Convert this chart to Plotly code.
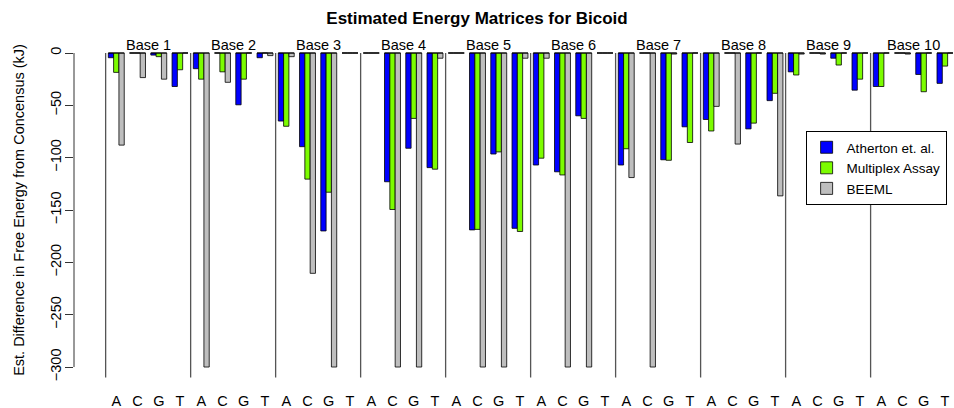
import plotly.graph_objects as go

# ---- data ----
bases = ["Base 1", "Base 2", "Base 3", "Base 4", "Base 5",
         "Base 6", "Base 7", "Base 8", "Base 9", "Base 10"]
nucleotides = ["A", "C", "G", "T"]
series_names = ["Atherton et. al.", "Multiplex Assay", "BEEML"]

atherton = [
    -4.5, 0, -2, -32,
    -15, 0, -49.5, -4.5,
    -65, -89.5, -170, 0,
    0, -123, -91, -109.5,
    0, -169, -96.5, -167.5,
    -107, -113.5, -60, 0,
    -107, 0, -102, -70.5,
    -63.5, 0, -72.5, -45.5,
    -18, 0, -5, -35.5,
    -32, 0, -20.5, -29,
]
multiplex = [
    -18.5, 0, -3.5, -16,
    -25, -18, -25, 0,
    -70, -120.5, -133, 0,
    0, -149.5, -62.5, -111,
    0, -168.5, -94.5, -170.5,
    -100.5, -116.5, -62.5, 0,
    -91.5, 0, -102.5, -85.5,
    -74.5, 0, -67, -38.5,
    -21, 0, -11.5, -25,
    -32, 0, -37, -12.5,
]
beeml = [
    -88, -23.5, -25, 0,
    -300, -28, 0, -2.5,
    -3.5, -210.5, -300, 0,
    0, -300, -300, -5,
    0, -300, -300, -5,
    -5, -300, -300, 0,
    -119, -300, -1, 0,
    -51, -87, 0, -136.5,
    -1, -1, 0, 0,
    0, -1, 0, 0,
]
y_ticks = [0, -50, -100, -150, -200, -250, -300]

# ---- layout helpers (R barplot-style positions: 3 bars + 1 gap per group) ----
colors = ["#0000FF", "#7CFC00", "#BEBEBE"]
n_groups = len(bases) * len(nucleotides)
group_left = [1 + 4 * g for g in range(n_groups)]

fig = go.Figure()
for s, (name, vals) in enumerate(zip(series_names, [atherton, multiplex, beeml])):
    fig.add_trace(go.Bar(
        x=[gl + s + 0.5 for gl in group_left], y=vals, width=1, name=name,
        marker=dict(color=colors[s], line=dict(color="black", width=0.8)),
    ))

# zero line across each group (R draws zero-height bars as a flat line)
zx, zy = [], []
for gl in group_left:
    zx += [gl, gl + 3, None]
    zy += [0, 0, None]
fig.add_trace(go.Scatter(x=zx, y=zy, mode="lines", line=dict(color="black", width=1),
                         showlegend=False, hoverinfo="skip"))

shapes = []
for k in range(len(bases)):
    xs = 0.5 + 16 * k
    shapes.append(dict(type="line", xref="x", yref="y", x0=xs, x1=xs, y0=0, y1=-310,
                       line=dict(color="#555555", width=1.3), layer="below"))
shapes.append(dict(type="line", xref="paper", yref="y", x0=0, x1=0, y0=0, y1=-300,
                   line=dict(color="#333333", width=1)))

annotations = []
for k, b in enumerate(bases):
    annotations.append(dict(x=8.5 + 16 * k, y=7.6, xref="x", yref="y", text=b,
                            showarrow=False, yanchor="middle",
                            font=dict(size=14.5, color="black")))

label_pos = [gl + 1.5 for gl in group_left]
label_text = nucleotides * len(bases)

fig.update_layout(
    width=954, height=408,
    margin=dict(l=74, r=0, t=40, b=28, autoexpand=False),
    paper_bgcolor="white", plot_bgcolor="white",
    font=dict(family="Liberation Sans, Arial, Helvetica, sans-serif", size=14.5, color="black"),
    barmode="overlay",
    title=dict(text="<b>Estimated Energy Matrices for Bicoid</b>", x=0.5, xanchor="center",
               y=1 - 18 / 408, yanchor="middle", font=dict(size=17)),
    xaxis=dict(range=[-5.457, 160.2], tickvals=label_pos, ticktext=label_text,
               ticks="", showgrid=False, zeroline=False, showline=False,
               ticklabelstandoff=10, tickfont=dict(size=14.5)),
    yaxis=dict(range=[-312.4, 12.42], tickvals=y_ticks, ticks="outside", ticklen=8,
               tickcolor="#333333", tickangle=-90, showgrid=False, zeroline=False,
               showline=False, ticklabelstandoff=-2, tickfont=dict(size=14.5),
               title=dict(text="Est. Difference in Free Energy from Concensus (kJ)",
                          standoff=20, font=dict(size=14.5)), automargin=False),
    legend=dict(x=946 / 954, y=(380 - 131) / 340, xref="paper", xanchor="right", yanchor="top",
                bgcolor="white", bordercolor="black", borderwidth=1,
                font=dict(size=13.5), tracegroupgap=0, itemwidth=30),
    shapes=shapes, annotations=annotations,
    showlegend=True,
)

fig.write_html("out.html", config={"displayModeBar": False},
               post_script="document.body.style.margin='0';")
